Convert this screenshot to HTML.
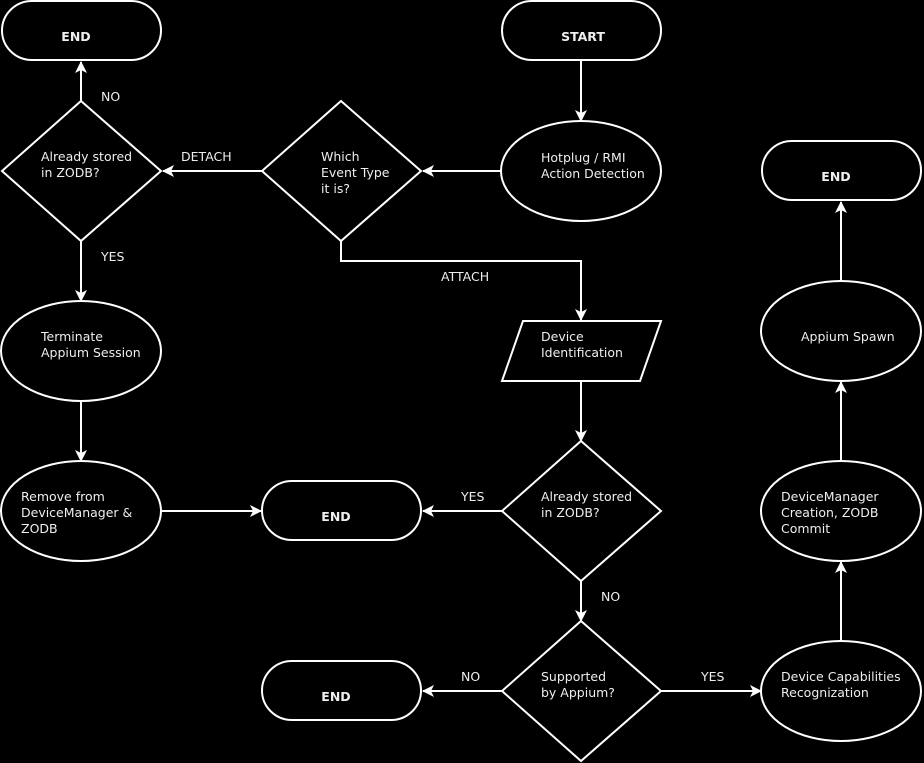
<!DOCTYPE html>
<html><head><meta charset="utf-8"><style>
html,body{margin:0;padding:0;background:#000;}
svg{display:block}
text{font-family:"DejaVu Sans","Liberation Sans",sans-serif;font-size:12.5px;fill:#eee;}
.b{font-weight:bold;text-anchor:middle;}
</style></head><body>
<svg width="924" height="763" viewBox="0 0 924 763" xmlns="http://www.w3.org/2000/svg">
<defs>
<marker id="a" markerWidth="12" markerHeight="12" refX="11" refY="6" orient="auto" markerUnits="userSpaceOnUse">
<path d="M0,0 L12,6 L0,12 L3,6 z" fill="#fff"/>
</marker>
</defs>
<g fill="none" stroke="#fff" stroke-width="2">
<rect x="2" y="1" width="159" height="59" rx="30"/>
<rect x="502" y="1" width="159" height="59" rx="30"/>
<rect x="762" y="141" width="159" height="59" rx="30"/>
<rect x="262" y="481" width="159" height="59" rx="30"/>
<rect x="262" y="661" width="159" height="59" rx="30"/>
<ellipse cx="581" cy="171" rx="80" ry="50"/>
<ellipse cx="81" cy="351" rx="80" ry="50"/>
<ellipse cx="81" cy="511" rx="80" ry="50"/>
<ellipse cx="841" cy="331" rx="80" ry="50"/>
<ellipse cx="841" cy="511" rx="80" ry="50"/>
<ellipse cx="841" cy="691" rx="80" ry="50"/>
<polygon points="341,101 421,171 341,241 262,171"/>
<polygon points="81,101 161,171 81,241 2,171"/>
<polygon points="581,441 661,511 581,581 502,511"/>
<polygon points="581,621 661,691 581,761 502,691"/>
<polygon points="523,321 661,321 640,381 502,381"/>
<g marker-end="url(#a)">
<line x1="581" y1="61" x2="581" y2="121"/>
<line x1="502" y1="171" x2="423" y2="171"/>
<line x1="262" y1="171" x2="163" y2="171"/>
<line x1="81" y1="101" x2="81" y2="62"/>
<line x1="81" y1="241" x2="81" y2="301"/>
<line x1="81" y1="401" x2="81" y2="461"/>
<line x1="161" y1="511" x2="261" y2="511"/>
<polyline points="341,241 341,261 581,261 581,320"/>
<line x1="581" y1="381" x2="581" y2="441"/>
<line x1="502" y1="511" x2="423" y2="511"/>
<line x1="581" y1="581" x2="581" y2="621"/>
<line x1="502" y1="691" x2="423" y2="691"/>
<line x1="661" y1="691" x2="761" y2="691"/>
<line x1="841" y1="641" x2="841" y2="562"/>
<line x1="841" y1="461" x2="841" y2="382"/>
<line x1="841" y1="281" x2="841" y2="202"/>
</g>
</g>
<text class="b" x="76" y="41">END</text>
<text class="b" x="583" y="41">START</text>
<text class="b" x="836" y="181">END</text>
<text class="b" x="336" y="521">END</text>
<text class="b" x="336" y="701">END</text>
<text x="541" y="162">Hotplug / RMI</text><text x="541" y="178">Action Detection</text>
<text x="321" y="161">Which</text><text x="321" y="177">Event Type</text><text x="321" y="193">it is?</text>
<text x="41" y="161">Already stored</text><text x="41" y="177">in ZODB?</text>
<text x="41" y="341">Terminate</text><text x="41" y="357">Appium Session</text>
<text x="21" y="501">Remove from</text><text x="21" y="517">DeviceManager &amp;</text><text x="21" y="533"> ZODB</text>
<text x="541" y="341">Device</text><text x="541" y="357">Identification</text>
<text x="541" y="501">Already stored</text><text x="541" y="517">in ZODB?</text>
<text x="541" y="681">Supported</text><text x="541" y="697">by Appium?</text>
<text x="781" y="681">Device Capabilities</text><text x="781" y="697">Recognization</text>
<text x="781" y="501">DeviceManager</text><text x="781" y="517">Creation, ZODB</text><text x="781" y="533">Commit</text>
<text x="801" y="341">Appium Spawn</text>
<text x="101" y="101">NO</text>
<text x="181" y="161">DETACH</text>
<text x="101" y="261">YES</text>
<text x="441" y="281">ATTACH</text>
<text x="461" y="501">YES</text>
<text x="601" y="601">NO</text>
<text x="461" y="681">NO</text>
<text x="701" y="681">YES</text>
</svg>
</body></html>
